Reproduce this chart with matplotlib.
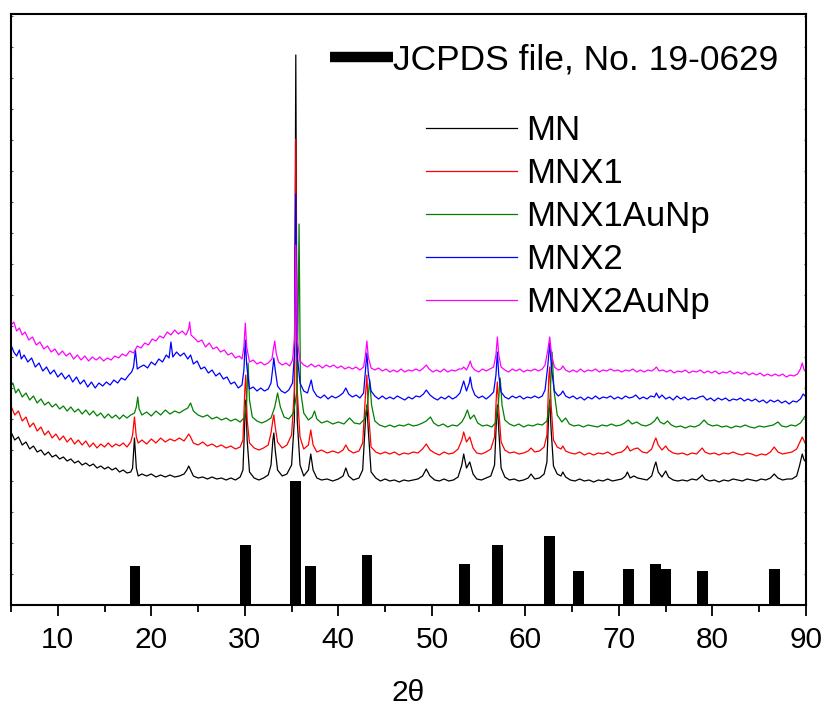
import matplotlib

matplotlib.use("Agg")
import matplotlib.pyplot as plt
import numpy as np
from matplotlib.lines import Line2D

plt.rcParams["font.family"] = ["Liberation Sans", "DejaVu Sans"]

# JCPDS 19-0629 reference lines (2theta, relative intensity)
JCPDS_POS = [18.25, 30.1, 35.45, 37.05, 43.05, 53.45, 57.0, 62.6, 65.7, 71.0, 73.9, 75.0, 78.95, 86.6]
JCPDS_INT = [39, 60, 124, 39, 50, 41, 60, 69, 34, 36, 41, 36, 34, 36]

MN = [
    (5.0, 173), (5.4, 165), (5.8, 168), (6.2, 160), (6.6, 163), (7.0, 156), (7.4, 159), (7.8, 153),
    (8.2, 155), (8.6, 150), (9.0, 153), (9.4, 148), (9.8, 150), (10.2, 146), (10.6, 148), (11.0, 144),
    (11.4, 146), (11.8, 142), (12.2, 144), (12.6, 140), (13.0, 142), (13.4, 139), (13.8, 141), (14.2, 137),
    (14.6, 139), (15.0, 136), (15.4, 138), (15.8, 135), (16.2, 137), (16.6, 133), (17.0, 135), (17.4, 132),
    (17.8, 133), (18.0, 137), (18.2, 167), (18.4, 137), (18.6, 129), (19.0, 131), (19.5, 129), (20.0, 131),
    (20.5, 128), (21.0, 130), (21.5, 128), (22.0, 130), (22.5, 128), (23.0, 129), (23.5, 131), (23.8, 135),
    (24.0, 139), (24.2, 135), (24.5, 129), (25.0, 127), (25.5, 128), (26.0, 126), (26.5, 128), (27.0, 126),
    (27.5, 127), (28.0, 125), (28.5, 127), (29.0, 125), (29.5, 128), (29.8, 135), (30.0, 185), (30.1, 205),
    (30.25, 165), (30.5, 133), (31.0, 127), (31.5, 125), (32.0, 127), (32.5, 130), (32.8, 140), (33.0, 165),
    (33.1, 172), (33.25, 155), (33.5, 135), (34.0, 129), (34.5, 131), (35.0, 140), (35.3, 185), (35.45, 550),
    (35.6, 185), (35.9, 140), (36.3, 129), (36.8, 135), (37.05, 151), (37.3, 135), (37.7, 127), (38.2, 125),
    (38.8, 126), (39.4, 124), (40.0, 126), (40.5, 129), (40.8, 137), (41.1, 129), (41.6, 125), (42.2, 127),
    (42.6, 135), (42.9, 185), (43.05, 200), (43.2, 175), (43.5, 133), (44.0, 127), (44.5, 124), (45.0, 126),
    (45.5, 124), (46.0, 125), (46.5, 123), (47.0, 125), (47.5, 124), (48.0, 125), (48.5, 126), (49.0, 129),
    (49.4, 136), (49.8, 129), (50.3, 125), (50.8, 124), (51.3, 126), (51.8, 124), (52.3, 125), (52.8, 128),
    (53.2, 140), (53.4, 151), (53.7, 137), (54.05, 143), (54.4, 131), (54.8, 126), (55.3, 125), (55.8, 127),
    (56.3, 129), (56.7, 140), (56.9, 185), (57.0, 200), (57.15, 175), (57.4, 137), (57.8, 128), (58.3, 125),
    (58.8, 126), (59.3, 124), (59.8, 125), (60.3, 127), (60.6, 131), (61.0, 126), (61.5, 127), (62.0, 131),
    (62.3, 143), (62.5, 195), (62.6, 205), (62.75, 175), (63.0, 139), (63.4, 131), (63.8, 129), (64.0, 133),
    (64.3, 128), (64.8, 125), (65.3, 124), (65.8, 126), (66.3, 124), (66.8, 125), (67.3, 123), (67.8, 125),
    (68.3, 124), (68.8, 126), (69.3, 124), (69.8, 125), (70.3, 126), (70.7, 129), (70.9, 133), (71.2, 127),
    (71.6, 129), (72.0, 127), (72.5, 126), (73.0, 125), (73.5, 129), (73.8, 139), (73.95, 143), (74.2, 133),
    (74.6, 128), (75.0, 134), (75.3, 128), (75.8, 125), (76.3, 124), (76.8, 125), (77.3, 124), (77.8, 126),
    (78.3, 125), (78.7, 128), (78.9, 130), (79.2, 126), (79.7, 124), (80.2, 125), (80.7, 123), (81.2, 125),
    (81.7, 124), (82.2, 126), (82.7, 125), (83.2, 124), (83.7, 126), (84.2, 125), (84.7, 124), (85.2, 126),
    (85.7, 125), (86.2, 127), (86.6, 131), (87.0, 127), (87.5, 125), (88.0, 126), (88.5, 126), (89.0, 129),
    (89.3, 139), (89.6, 151), (89.8, 145), (90.0, 143),
]

MNX1 = [
    (5.0, 199), (5.4, 190), (5.8, 194), (6.2, 184), (6.6, 188), (7.0, 178), (7.4, 182), (7.8, 174),
    (8.2, 178), (8.6, 170), (9.0, 174), (9.4, 167), (9.8, 171), (10.2, 165), (10.6, 169), (11.0, 163),
    (11.4, 167), (11.8, 161), (12.2, 165), (12.6, 160), (13.0, 164), (13.4, 158), (13.8, 162), (14.2, 157),
    (14.6, 161), (15.0, 158), (15.4, 162), (15.8, 158), (16.2, 161), (16.6, 159), (17.0, 162), (17.4, 158),
    (17.8, 163), (18.0, 170), (18.2, 188), (18.4, 168), (18.6, 162), (19.0, 165), (19.5, 161), (20.0, 166),
    (20.5, 162), (21.0, 167), (21.5, 163), (22.0, 166), (22.5, 164), (23.0, 167), (23.5, 164), (23.8, 168),
    (24.0, 171), (24.2, 168), (24.5, 162), (25.0, 160), (25.5, 163), (26.0, 159), (26.5, 161), (27.0, 158),
    (27.5, 160), (28.0, 157), (28.5, 159), (29.0, 156), (29.5, 158), (29.8, 165), (30.0, 215), (30.1, 230),
    (30.25, 185), (30.5, 162), (31.0, 157), (31.5, 155), (32.0, 157), (32.5, 160), (32.8, 172), (33.0, 185),
    (33.1, 190), (33.25, 178), (33.5, 163), (34.0, 157), (34.5, 160), (35.0, 170), (35.3, 215), (35.45, 466),
    (35.6, 215), (35.9, 168), (36.3, 156), (36.8, 160), (37.05, 175), (37.3, 160), (37.7, 153), (38.2, 155),
    (38.8, 152), (39.4, 154), (40.0, 152), (40.5, 155), (40.8, 160), (41.1, 155), (41.6, 152), (42.2, 154),
    (42.6, 162), (42.9, 210), (43.05, 230), (43.2, 195), (43.5, 158), (44.0, 153), (44.5, 151), (45.0, 153),
    (45.5, 151), (46.0, 153), (46.5, 150), (47.0, 152), (47.5, 151), (48.0, 153), (48.5, 152), (49.0, 156),
    (49.4, 161), (49.8, 155), (50.3, 152), (50.8, 150), (51.3, 153), (51.8, 151), (52.3, 152), (52.8, 156),
    (53.2, 165), (53.4, 173), (53.7, 163), (54.05, 168), (54.4, 157), (54.8, 152), (55.3, 151), (55.8, 153),
    (56.3, 156), (56.7, 168), (56.9, 210), (57.0, 223), (57.15, 195), (57.4, 163), (57.8, 155), (58.3, 152),
    (58.8, 153), (59.3, 151), (59.8, 152), (60.3, 154), (60.6, 157), (61.0, 153), (61.5, 154), (62.0, 158),
    (62.3, 170), (62.5, 228), (62.6, 238), (62.75, 200), (63.0, 165), (63.4, 158), (63.8, 156), (64.0, 159),
    (64.3, 154), (64.8, 152), (65.3, 151), (65.8, 153), (66.3, 150), (66.8, 152), (67.3, 150), (67.8, 152),
    (68.3, 151), (68.8, 153), (69.3, 150), (69.8, 152), (70.3, 153), (70.7, 156), (70.9, 159), (71.2, 154),
    (71.6, 156), (72.0, 157), (72.5, 153), (73.0, 152), (73.5, 156), (73.8, 164), (73.95, 167), (74.2, 160),
    (74.6, 155), (75.0, 159), (75.3, 155), (75.8, 152), (76.3, 151), (76.8, 152), (77.3, 150), (77.8, 152),
    (78.3, 151), (78.7, 155), (78.9, 157), (79.2, 153), (79.7, 151), (80.2, 152), (80.7, 150), (81.2, 152),
    (81.7, 151), (82.2, 153), (82.7, 151), (83.2, 150), (83.7, 152), (84.2, 151), (84.7, 149), (85.2, 151),
    (85.7, 150), (86.2, 153), (86.6, 158), (87.0, 153), (87.5, 151), (88.0, 152), (88.5, 153), (89.0, 156),
    (89.3, 162), (89.6, 168), (89.8, 164), (90.0, 160),
]

MNX1AuNp = [
    (5.0, 219), (5.2, 222), (5.5, 212), (5.8, 216), (6.2, 208), (6.6, 212), (7.0, 205), (7.4, 209),
    (7.8, 202), (8.2, 206), (8.6, 200), (9.0, 203), (9.4, 198), (9.8, 201), (10.2, 196), (10.6, 199),
    (11.0, 194), (11.4, 198), (11.8, 193), (12.2, 196), (12.6, 191), (13.0, 195), (13.4, 190), (13.8, 194),
    (14.2, 189), (14.6, 192), (15.0, 187), (15.4, 191), (15.8, 187), (16.2, 190), (16.6, 186), (17.0, 190),
    (17.4, 187), (17.8, 190), (18.2, 192), (18.4, 198), (18.55, 208), (18.7, 196), (19.0, 190), (19.5, 193),
    (20.0, 189), (20.5, 194), (21.0, 190), (21.5, 195), (22.0, 191), (22.5, 194), (23.0, 192), (23.5, 195),
    (23.9, 197), (24.2, 202), (24.5, 194), (25.0, 190), (25.5, 188), (26.0, 190), (26.5, 186), (27.0, 188),
    (27.5, 185), (28.0, 187), (28.5, 184), (29.0, 186), (29.5, 183), (30.0, 188), (30.2, 205), (30.35, 242),
    (30.5, 205), (30.8, 188), (31.3, 184), (31.8, 182), (32.3, 184), (32.8, 187), (33.2, 198), (33.5, 212),
    (33.8, 198), (34.2, 188), (34.7, 186), (35.2, 192), (35.6, 215), (35.8, 381), (35.95, 215), (36.3, 192),
    (36.8, 185), (37.2, 188), (37.45, 194), (37.7, 186), (38.2, 182), (38.8, 184), (39.4, 181), (40.0, 183),
    (40.6, 181), (41.2, 187), (41.7, 182), (42.3, 181), (42.8, 186), (43.1, 200), (43.35, 225), (43.55, 200),
    (43.9, 184), (44.4, 180), (45.0, 178), (45.5, 180), (46.0, 178), (46.5, 180), (47.0, 179), (47.5, 181),
    (48.0, 179), (48.5, 180), (49.0, 182), (49.4, 184), (49.85, 188), (50.2, 182), (50.7, 179), (51.2, 181),
    (51.7, 178), (52.2, 180), (52.7, 179), (53.2, 183), (53.5, 188), (53.8, 195), (54.1, 186), (54.5, 190),
    (54.9, 182), (55.4, 179), (55.9, 180), (56.4, 178), (56.8, 182), (57.1, 200), (57.3, 227), (57.5, 200),
    (57.8, 185), (58.3, 181), (58.8, 179), (59.3, 181), (59.8, 178), (60.3, 180), (60.8, 179), (61.3, 181),
    (61.8, 180), (62.3, 184), (62.6, 200), (62.85, 253), (63.05, 215), (63.4, 190), (63.9, 183), (64.3, 187),
    (64.7, 181), (65.2, 179), (65.7, 180), (66.2, 178), (66.7, 180), (67.2, 179), (67.7, 178), (68.2, 180),
    (68.7, 179), (69.2, 181), (69.7, 179), (70.2, 180), (70.6, 182), (71.0, 185), (71.4, 181), (71.9, 183),
    (72.4, 180), (72.9, 179), (73.4, 181), (73.8, 184), (74.1, 188), (74.4, 183), (74.8, 181), (75.2, 184),
    (75.6, 180), (76.1, 178), (76.6, 179), (77.1, 177), (77.6, 179), (78.1, 178), (78.6, 180), (79.1, 185),
    (79.5, 181), (80.0, 179), (80.5, 180), (81.0, 178), (81.5, 179), (82.0, 177), (82.5, 179), (83.0, 178),
    (83.5, 180), (84.0, 178), (84.5, 177), (85.0, 179), (85.5, 178), (86.0, 179), (86.5, 180), (87.0, 183),
    (87.4, 179), (87.9, 178), (88.4, 180), (88.9, 179), (89.4, 182), (89.7, 186), (89.9, 189), (90.0, 186),
]

MNX2 = [
    (5.0, 260), (5.3, 253), (5.6, 249), (5.9, 255), (6.1, 246), (6.4, 250), (6.8, 243), (7.2, 247),
    (7.6, 238), (8.0, 242), (8.4, 234), (8.8, 238), (9.2, 231), (9.6, 235), (10.0, 228), (10.4, 232),
    (10.8, 226), (11.2, 230), (11.6, 223), (12.0, 228), (12.4, 221), (12.8, 225), (13.2, 218), (13.6, 223),
    (14.0, 217), (14.4, 222), (14.8, 219), (15.2, 223), (15.6, 220), (16.0, 225), (16.4, 222), (16.8, 227),
    (17.2, 225), (17.6, 230), (17.9, 233), (18.1, 238), (18.3, 255), (18.5, 236), (18.8, 238), (19.2, 240),
    (19.6, 237), (20.0, 243), (20.4, 240), (20.8, 246), (21.2, 243), (21.6, 250), (21.9, 247), (22.1, 263),
    (22.3, 248), (22.7, 253), (23.1, 249), (23.5, 252), (23.9, 246), (24.2, 250), (24.5, 241), (24.9, 244),
    (25.3, 236), (25.7, 238), (26.1, 232), (26.5, 235), (26.9, 229), (27.3, 232), (27.7, 226), (28.1, 228),
    (28.5, 221), (28.9, 223), (29.3, 217), (29.7, 220), (29.9, 235), (30.05, 265), (30.2, 240), (30.5, 216),
    (30.9, 218), (31.3, 214), (31.7, 217), (32.1, 214), (32.5, 216), (32.8, 222), (33.0, 238), (33.1, 247),
    (33.25, 235), (33.5, 219), (33.9, 214), (34.3, 212), (34.7, 215), (35.1, 222), (35.3, 250), (35.45, 411),
    (35.6, 250), (35.9, 222), (36.3, 214), (36.7, 212), (36.95, 220), (37.1, 225), (37.3, 215), (37.7, 209),
    (38.1, 207), (38.5, 210), (38.9, 206), (39.3, 209), (39.7, 207), (40.1, 209), (40.5, 212), (40.8, 217),
    (41.1, 211), (41.5, 208), (41.9, 210), (42.3, 207), (42.7, 212), (42.9, 235), (43.05, 252), (43.2, 232),
    (43.5, 214), (43.9, 209), (44.3, 206), (44.7, 209), (45.1, 206), (45.5, 208), (45.9, 206), (46.3, 209),
    (46.7, 207), (47.1, 205), (47.5, 208), (47.9, 206), (48.3, 209), (48.7, 208), (49.1, 211), (49.4, 215),
    (49.8, 210), (50.2, 207), (50.6, 205), (51.0, 208), (51.4, 206), (51.8, 209), (52.2, 206), (52.6, 208),
    (53.0, 212), (53.2, 218), (53.4, 224), (53.7, 214), (54.0, 222), (54.1, 228), (54.3, 217), (54.6, 210),
    (55.0, 207), (55.4, 209), (55.8, 206), (56.2, 209), (56.6, 213), (56.85, 230), (57.0, 253), (57.15, 230),
    (57.4, 213), (57.8, 208), (58.2, 206), (58.6, 209), (59.0, 207), (59.4, 209), (59.8, 206), (60.2, 208),
    (60.6, 207), (61.0, 209), (61.4, 207), (61.8, 209), (62.1, 215), (62.4, 240), (62.6, 262), (62.8, 235),
    (63.1, 214), (63.5, 209), (63.8, 211), (64.0, 214), (64.3, 209), (64.7, 207), (65.1, 209), (65.5, 206),
    (65.9, 208), (66.3, 205), (66.7, 208), (67.1, 206), (67.5, 209), (67.9, 206), (68.3, 208), (68.7, 207),
    (69.1, 209), (69.5, 206), (69.9, 208), (70.3, 206), (70.7, 209), (71.1, 207), (71.5, 208), (71.8, 210),
    (72.2, 206), (72.6, 208), (73.0, 206), (73.4, 209), (73.8, 208), (74.0, 212), (74.3, 207), (74.6, 210),
    (75.0, 206), (75.4, 208), (75.8, 205), (76.2, 209), (76.6, 206), (77.0, 208), (77.4, 205), (77.8, 207),
    (78.2, 206), (78.6, 208), (79.0, 209), (79.4, 205), (79.8, 207), (80.2, 204), (80.6, 207), (81.0, 205),
    (81.4, 207), (81.8, 204), (82.2, 206), (82.6, 205), (83.0, 207), (83.4, 204), (83.8, 206), (84.2, 204),
    (84.6, 206), (85.0, 203), (85.4, 205), (85.8, 202), (86.2, 205), (86.6, 203), (87.0, 205), (87.4, 202),
    (87.8, 204), (88.2, 201), (88.6, 204), (89.0, 203), (89.4, 206), (89.7, 211), (90.0, 208),
]

MNX2AuNp = [
    (5.0, 280), (5.3, 283), (5.6, 274), (5.9, 277), (6.2, 270), (6.5, 273), (6.9, 265), (7.3, 268),
    (7.7, 260), (8.1, 263), (8.5, 256), (8.9, 259), (9.3, 253), (9.7, 256), (10.1, 250), (10.5, 254),
    (10.9, 249), (11.3, 252), (11.7, 246), (12.1, 250), (12.5, 245), (12.9, 249), (13.3, 244), (13.7, 248),
    (14.1, 245), (14.5, 248), (14.9, 244), (15.3, 247), (15.7, 245), (16.1, 249), (16.5, 247), (16.9, 251),
    (17.3, 249), (17.7, 254), (18.1, 252), (18.5, 259), (18.9, 257), (19.3, 262), (19.7, 260), (20.1, 266),
    (20.5, 264), (20.9, 269), (21.3, 267), (21.7, 273), (22.1, 270), (22.5, 275), (22.9, 271), (23.3, 274),
    (23.7, 270), (24.0, 276), (24.1, 283), (24.25, 270), (24.6, 267), (25.0, 263), (25.4, 265), (25.8, 258),
    (26.2, 262), (26.6, 256), (27.0, 258), (27.4, 253), (27.8, 255), (28.2, 250), (28.6, 252), (29.0, 247),
    (29.4, 249), (29.7, 246), (29.9, 258), (30.05, 282), (30.2, 258), (30.5, 243), (30.9, 245), (31.3, 241),
    (31.7, 243), (32.1, 240), (32.5, 242), (32.9, 246), (33.05, 256), (33.2, 264), (33.35, 252), (33.6, 243),
    (34.0, 240), (34.4, 242), (34.8, 239), (35.1, 245), (35.3, 265), (35.45, 360), (35.6, 265), (35.9, 244),
    (36.3, 240), (36.7, 238), (37.1, 241), (37.5, 238), (37.9, 240), (38.3, 237), (38.7, 240), (39.1, 238),
    (39.5, 240), (39.9, 237), (40.3, 239), (40.7, 236), (41.1, 238), (41.5, 236), (41.9, 238), (42.3, 235),
    (42.7, 238), (42.9, 250), (43.05, 264), (43.2, 248), (43.5, 237), (43.9, 235), (44.3, 237), (44.7, 234),
    (45.1, 236), (45.5, 233), (45.9, 235), (46.3, 233), (46.7, 236), (47.1, 233), (47.5, 235), (47.9, 234),
    (48.3, 236), (48.7, 234), (49.1, 237), (49.4, 240), (49.7, 236), (50.1, 233), (50.5, 235), (50.9, 233),
    (51.3, 236), (51.7, 233), (52.1, 235), (52.5, 234), (52.9, 236), (53.2, 236), (53.4, 238), (53.7, 235),
    (54.0, 241), (54.1, 244), (54.3, 238), (54.6, 235), (55.0, 233), (55.4, 236), (55.8, 234), (56.2, 236),
    (56.6, 238), (56.85, 250), (57.0, 268), (57.15, 250), (57.4, 238), (57.8, 235), (58.2, 233), (58.6, 236),
    (59.0, 234), (59.4, 236), (59.8, 233), (60.2, 235), (60.6, 234), (61.0, 236), (61.4, 234), (61.8, 236),
    (62.1, 240), (62.4, 255), (62.6, 268), (62.8, 250), (63.1, 238), (63.5, 235), (63.8, 236), (64.0, 239),
    (64.3, 235), (64.7, 233), (65.1, 235), (65.5, 233), (65.9, 236), (66.3, 233), (66.7, 235), (67.1, 234),
    (67.5, 236), (67.9, 233), (68.3, 235), (68.7, 234), (69.1, 236), (69.5, 234), (69.9, 235), (70.3, 233),
    (70.7, 235), (71.1, 234), (71.5, 236), (71.9, 233), (72.3, 235), (72.7, 233), (73.1, 235), (73.5, 234),
    (73.8, 236), (74.0, 238), (74.3, 234), (74.7, 235), (75.1, 233), (75.5, 235), (75.9, 232), (76.3, 234),
    (76.7, 233), (77.1, 235), (77.5, 232), (77.9, 234), (78.3, 233), (78.7, 235), (79.1, 232), (79.5, 234),
    (79.9, 232), (80.3, 234), (80.7, 231), (81.1, 233), (81.5, 232), (81.9, 234), (82.3, 231), (82.7, 233),
    (83.1, 231), (83.5, 233), (83.9, 230), (84.3, 232), (84.7, 230), (85.1, 232), (85.5, 229), (85.9, 231),
    (86.3, 229), (86.7, 231), (87.1, 229), (87.5, 231), (87.9, 228), (88.3, 230), (88.7, 229), (89.1, 231),
    (89.4, 236), (89.6, 242), (89.8, 235), (90.0, 233),
]

SERIES = [("MN", MN, "black"), ("MNX1", MNX1, "red"), ("MNX1AuNp", MNX1AuNp, "green"),
          ("MNX2", MNX2, "blue"), ("MNX2AuNp", MNX2AuNp, "magenta")]

fig = plt.figure(figsize=(8.25, 7.08), dpi=100)
ax = fig.add_axes([11 / 825, 1 - 605 / 708, 795 / 825, 591 / 708])

ax.bar(JCPDS_POS, JCPDS_INT, width=1.15, color="black", zorder=1)

handles = []
for name, pts, col in SERIES:
    x, y = np.array(pts).T
    (ln,) = ax.plot(x, y, color=col, lw=0.9, label=name, zorder=2)
    handles.append(ln)

ax.set_xlim(5, 90)
ax.set_ylim(0, 591)
ax.set_xticks(range(10, 91, 10))
ax.set_xticks(range(5, 91, 5), minor=True)
ax.set_yticks(np.arange(0, 591, 31))
ax.set_yticklabels([])
ax.tick_params(axis="x", which="major", direction="out", length=8, width=1.3,
               labelsize=21.5, pad=7)
ax.tick_params(axis="x", which="minor", direction="out", length=5, width=1.3)
ax.tick_params(axis="y", direction="in", length=1.5, width=0.8, left=True, right=True,
               color="#555555")
for s in ax.spines.values():
    s.set_linewidth(1.5)

ax.set_xlabel("2θ", fontsize=21.5, labelpad=18)

jc = Line2D([], [], color="black", lw=7.5, solid_capstyle="butt")
leg1 = ax.legend([jc], ["JCPDS file, No. 19-0629"], loc="upper left",
                 bbox_to_anchor=(330 / 825, 1 - 43 / 708), bbox_transform=fig.transFigure,
                 frameon=False, fontsize=25.5, handlelength=1.78, handletextpad=0.0,
                 borderpad=0, borderaxespad=0)
ax.add_artist(leg1)
ax.legend(handles=handles, loc="upper left",
          bbox_to_anchor=(426 / 825, 1 - 114 / 708), bbox_transform=fig.transFigure,
          frameon=False, fontsize=25, handlelength=2.62, handletextpad=0.25,
          labelspacing=0.29, borderpad=0, borderaxespad=0)

fig.savefig("out.png", dpi=100)
